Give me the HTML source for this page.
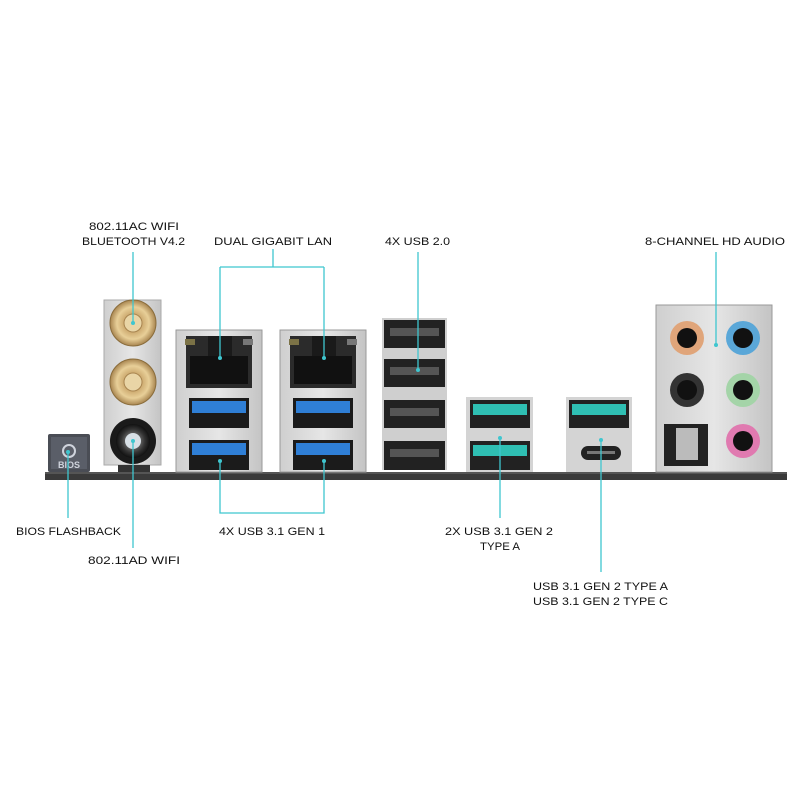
<!DOCTYPE html>
<html><head><meta charset="utf-8"><style>html,body{margin:0;padding:0;background:#fff}svg{display:block}</style></head>
<body>
<svg width="800" height="800" viewBox="0 0 800 800" xmlns="http://www.w3.org/2000/svg">
<defs>
<radialGradient id="gold" cx="50%" cy="50%" r="50%"><stop offset="0" stop-color="#f3e2b8"/><stop offset="0.35" stop-color="#c9a56a"/><stop offset="0.7" stop-color="#e8cf98"/><stop offset="1" stop-color="#a88550"/></radialGradient>
<radialGradient id="blk" cx="50%" cy="50%" r="50%"><stop offset="0" stop-color="#ddd"/><stop offset="0.3" stop-color="#777"/><stop offset="0.7" stop-color="#333"/><stop offset="1" stop-color="#111"/></radialGradient>
<linearGradient id="silver" x1="0" y1="0" x2="1" y2="0"><stop offset="0" stop-color="#cfcfcf"/><stop offset="0.5" stop-color="#e6e6e6"/><stop offset="1" stop-color="#c4c4c4"/></linearGradient>
</defs>
<g font-family="Liberation Sans, sans-serif" font-size="11" fill="#111" lengthAdjust="spacingAndGlyphs">
<text x="89" y="230" textLength="90" lengthAdjust="spacingAndGlyphs">802.11AC WIFI</text>
<text x="82" y="245" textLength="103" lengthAdjust="spacingAndGlyphs">BLUETOOTH V4.2</text>
<text x="214" y="245" textLength="118" lengthAdjust="spacingAndGlyphs">DUAL GIGABIT LAN</text>
<text x="385" y="245" textLength="65" lengthAdjust="spacingAndGlyphs">4X USB 2.0</text>
<text x="645" y="245" textLength="140" lengthAdjust="spacingAndGlyphs">8-CHANNEL HD AUDIO</text>
<text x="16" y="535" textLength="105" lengthAdjust="spacingAndGlyphs">BIOS FLASHBACK</text>
<text x="88" y="564" textLength="92" lengthAdjust="spacingAndGlyphs">802.11AD WIFI</text>
<text x="219" y="535" textLength="106" lengthAdjust="spacingAndGlyphs">4X USB 3.1 GEN 1</text>
<text x="445" y="535" textLength="108" lengthAdjust="spacingAndGlyphs">2X USB 3.1 GEN 2</text>
<text x="480" y="550" textLength="40" lengthAdjust="spacingAndGlyphs">TYPE A</text>
<text x="533" y="590" textLength="135" lengthAdjust="spacingAndGlyphs">USB 3.1 GEN 2 TYPE A</text>
<text x="533" y="605" textLength="135" lengthAdjust="spacingAndGlyphs">USB 3.1 GEN 2 TYPE C</text>
</g>

<!-- black base bar -->
<rect x="45" y="472" width="742" height="8" fill="#3a3a3a"/>
<rect x="45" y="472" width="742" height="2" fill="#555"/>

<!-- BIOS button -->
<rect x="48" y="434" width="42" height="38" rx="2" fill="#4a4d55"/>
<rect x="51" y="437" width="36" height="32" fill="#5a5e68"/>
<text x="69" y="468" font-family="Liberation Sans, sans-serif" font-size="9" font-weight="bold" fill="#cfd3dc" text-anchor="middle">BIOS</text>
<circle cx="69" cy="451" r="6" fill="none" stroke="#cfd3dc" stroke-width="2"/>

<!-- antenna bracket -->
<rect x="104" y="300" width="57" height="165" fill="url(#silver)" stroke="#aaa"/>
<circle cx="133" cy="323" r="23" fill="url(#gold)" stroke="#8a6d3c"/>
<circle cx="133" cy="323" r="9" fill="#e9d5a6" stroke="#a88550"/>
<circle cx="133" cy="382" r="23" fill="url(#gold)" stroke="#8a6d3c"/>
<circle cx="133" cy="382" r="9" fill="#e9d5a6" stroke="#a88550"/>
<circle cx="133" cy="441" r="23" fill="#1a1a1a"/>
<circle cx="133" cy="441" r="17" fill="url(#blk)"/>
<circle cx="133" cy="441" r="8" fill="#d8e0e6"/>
<rect x="118" y="465" width="32" height="7" fill="#333"/>

<!-- LAN blocks -->
<g id="lan">
<rect x="176" y="330" width="86" height="142" fill="url(#silver)" stroke="#999"/>
<rect x="186" y="336" width="66" height="52" fill="#2b2b2b"/>
<rect x="190" y="356" width="58" height="28" fill="#111"/>
<rect x="208" y="336" width="24" height="20" fill="#1a1a1a"/>
<rect x="185" y="339" width="10" height="6" fill="#7b7246"/>
<rect x="243" y="339" width="10" height="6" fill="#777"/>
<rect x="189" y="398" width="60" height="30" fill="#1b1b1b"/>
<rect x="192" y="401" width="54" height="12" fill="#2f7fd6"/>
<rect x="189" y="440" width="60" height="30" fill="#1b1b1b"/>
<rect x="192" y="443" width="54" height="12" fill="#2f7fd6"/>
</g>
<g transform="translate(104,0)">
<rect x="176" y="330" width="86" height="142" fill="url(#silver)" stroke="#999"/>
<rect x="186" y="336" width="66" height="52" fill="#2b2b2b"/>
<rect x="190" y="356" width="58" height="28" fill="#111"/>
<rect x="208" y="336" width="24" height="20" fill="#1a1a1a"/>
<rect x="185" y="339" width="10" height="6" fill="#7b7246"/>
<rect x="243" y="339" width="10" height="6" fill="#777"/>
<rect x="189" y="398" width="60" height="30" fill="#1b1b1b"/>
<rect x="192" y="401" width="54" height="12" fill="#2f7fd6"/>
<rect x="189" y="440" width="60" height="30" fill="#1b1b1b"/>
<rect x="192" y="443" width="54" height="12" fill="#2f7fd6"/>
</g>

<!-- USB 2.0 stack -->
<rect x="382" y="318" width="65" height="152" fill="#cfcfcf"/>
<rect x="384" y="320" width="61" height="28" fill="#222"/><rect x="390" y="328" width="49" height="8" fill="#555"/>
<rect x="384" y="359" width="61" height="28" fill="#222"/><rect x="390" y="367" width="49" height="8" fill="#555"/>
<rect x="384" y="400" width="61" height="28" fill="#222"/><rect x="390" y="408" width="49" height="8" fill="#555"/>
<rect x="384" y="441" width="61" height="29" fill="#222"/><rect x="390" y="449" width="49" height="8" fill="#555"/>

<!-- USB 3.1 Gen2 A x2 -->
<rect x="466" y="397" width="67" height="75" fill="#d4d4d4"/>
<rect x="470" y="400" width="60" height="28" fill="#222"/><rect x="473" y="404" width="54" height="11" fill="#2fbfb3"/>
<rect x="470" y="441" width="60" height="29" fill="#222"/><rect x="473" y="445" width="54" height="11" fill="#2fbfb3"/>

<!-- USB A + C -->
<rect x="566" y="397" width="66" height="75" fill="#d4d4d4"/>
<rect x="569" y="400" width="60" height="28" fill="#222"/><rect x="572" y="404" width="54" height="11" fill="#2fbfb3"/>
<rect x="581" y="446" width="40" height="14" rx="7" fill="#222"/>
<rect x="587" y="451" width="28" height="3" fill="#777"/>

<!-- Audio panel -->
<rect x="656" y="305" width="116" height="167" fill="url(#silver)" stroke="#999"/>
<circle cx="687" cy="338" r="17" fill="#e0a57a"/><circle cx="687" cy="338" r="10" fill="#111"/>
<circle cx="743" cy="338" r="17" fill="#5aa7d8"/><circle cx="743" cy="338" r="10" fill="#111"/>
<circle cx="687" cy="390" r="17" fill="#333"/><circle cx="687" cy="390" r="10" fill="#111"/>
<circle cx="743" cy="390" r="17" fill="#a4d4a8"/><circle cx="743" cy="390" r="10" fill="#111"/>
<rect x="664" y="424" width="44" height="42" fill="#222"/><rect x="676" y="428" width="22" height="32" fill="#bbb"/>
<circle cx="743" cy="441" r="17" fill="#e07ab0"/><circle cx="743" cy="441" r="10" fill="#111"/>

<!-- cyan connector lines -->
<g stroke="#3fc6cf" stroke-width="1.3" fill="none">
<path d="M133 252V323"/>
<path d="M273 249V267M220 267H324M220 267V358M324 267V358"/>
<path d="M418 252V370"/>
<path d="M716 252V345"/>
<path d="M68 452V518"/>
<path d="M133 441V548"/>
<path d="M220 461V513H324V461"/>
<path d="M500 438V518"/>
<path d="M601 440V572"/>
</g>
<g fill="#3fc6cf">
<circle cx="133" cy="323" r="2"/><circle cx="220" cy="358" r="2"/><circle cx="324" cy="358" r="2"/>
<circle cx="418" cy="370" r="2"/><circle cx="716" cy="345" r="2"/><circle cx="68" cy="452" r="2"/>
<circle cx="133" cy="441" r="2"/><circle cx="220" cy="461" r="2"/><circle cx="324" cy="461" r="2"/>
<circle cx="500" cy="438" r="2"/><circle cx="601" cy="440" r="2"/>
</g>
</svg>
</body></html>
